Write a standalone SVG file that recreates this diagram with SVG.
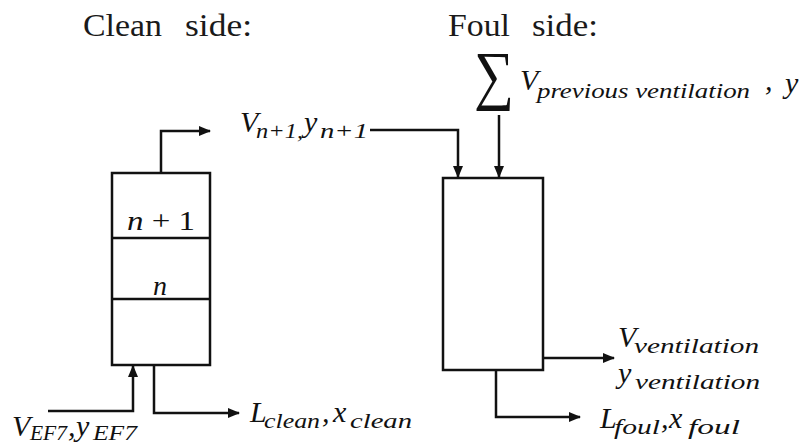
<svg xmlns="http://www.w3.org/2000/svg" width="804" height="446" viewBox="0 0 804 446">
<style>
.title{font-family:"Liberation Serif","DejaVu Serif",serif;font-size:32px;fill:#1a1a1a}
.m{font-family:"Liberation Serif","DejaVu Serif",serif;font-style:italic;font-size:30px;fill:#111}
.s{font-family:"Liberation Serif","DejaVu Serif",serif;font-style:italic;font-size:22px;fill:#111}
.u{font-family:"Liberation Serif","DejaVu Serif",serif;font-size:28px;fill:#111}
.box{fill:#fff;stroke:#111;stroke-width:2.5}
.ln{fill:none;stroke:#111;stroke-width:2.5}
.c{fill:none;stroke:#111;stroke-width:2.5;marker-end:url(#ah)}
</style>
<defs>
<marker id="ah" markerUnits="userSpaceOnUse" markerWidth="12" markerHeight="10" refX="11" refY="5" orient="auto"><path d="M0,0 L12,5 L0,10 z" fill="#111"/></marker>
</defs>
<rect width="804" height="446" fill="#fff"/>

<g id="titles">
<text class="title" x="83" y="36" textLength="79" lengthAdjust="spacingAndGlyphs">Clean</text>
<text class="title" x="185" y="36" textLength="67" lengthAdjust="spacingAndGlyphs">side:</text>
<text class="title" x="448" y="36" textLength="62" lengthAdjust="spacingAndGlyphs">Foul</text>
<text class="title" x="532" y="36" textLength="66" lengthAdjust="spacingAndGlyphs">side:</text>
</g>

<g id="clean-column">
<rect class="box" x="112" y="173" width="98" height="192"/>
<line class="ln" x1="112" y1="238" x2="210" y2="238"/>
<line class="ln" x1="112" y1="299" x2="210" y2="299"/>
<text class="u" x="161" y="230" text-anchor="middle" textLength="68" lengthAdjust="spacingAndGlyphs"><tspan font-style="italic">n</tspan> + 1</text>
<text class="u" x="160" y="295" text-anchor="middle" font-style="italic">n</text>
</g>

<g id="foul-column">
<rect class="box" x="443" y="178" width="100" height="192"/>
</g>

<g id="connectors">
<path class="c" d="M161,173 V131 H210"/>
<path class="c" d="M370,130 H458 V177"/>
<path class="c" d="M499,115 V177"/>
<path class="c" d="M48,411 H133 V366"/>
<path class="c" d="M154,365 V413 H239"/>
<path class="c" d="M543,358 H614"/>
<path class="c" d="M496,370 V417 H580"/>
</g>

<g id="label-vn1">
<text class="m" x="240" y="132">V</text>
<text class="s" x="256" y="138" textLength="47" lengthAdjust="spacingAndGlyphs">n+1,</text>
<text class="m" x="304" y="132">y</text>
<text class="s" x="320" y="138" textLength="48" lengthAdjust="spacingAndGlyphs">n+1</text>
</g>

<g id="label-previous">
<text font-family="Liberation Serif, serif" font-size="66" x="474" y="97" fill="#111" textLength="40" lengthAdjust="spacingAndGlyphs">∑</text>
<text class="m" x="520" y="90">V</text>
<text class="s" x="537" y="98" textLength="213" lengthAdjust="spacingAndGlyphs">previous ventilation</text>
<text class="m" x="765" y="90">,</text>
<text class="m" x="785" y="93">y</text>
</g>

<g id="label-ef7">
<text class="m" x="12" y="436">V</text>
<text class="s" x="30" y="440" textLength="37" lengthAdjust="spacingAndGlyphs">EF7</text>
<text class="m" x="68" y="436">,</text>
<text class="m" x="76" y="436">y</text>
<text class="s" x="93" y="440" textLength="44" lengthAdjust="spacingAndGlyphs">EF7</text>
</g>

<g id="label-clean">
<text class="m" x="250" y="422">L</text>
<text class="s" x="264" y="428" textLength="56" lengthAdjust="spacingAndGlyphs">clean</text>
<text class="m" x="322" y="422">,</text>
<text class="m" x="333" y="422">x</text>
<text class="s" x="350" y="428" textLength="62" lengthAdjust="spacingAndGlyphs">clean</text>
</g>

<g id="label-ventilation">
<text class="m" x="618" y="347">V</text>
<text class="s" x="634" y="353" textLength="125" lengthAdjust="spacingAndGlyphs">ventilation</text>
<text class="m" x="618" y="383">y</text>
<text class="s" x="635" y="389" textLength="125" lengthAdjust="spacingAndGlyphs">ventilation</text>
</g>

<g id="label-foul">
<text class="m" x="600" y="428">L</text>
<text class="s" x="614" y="434" textLength="46" lengthAdjust="spacingAndGlyphs">foul</text>
<text class="m" x="661" y="428">,</text>
<text class="m" x="669" y="428">x</text>
<text class="s" x="688" y="434" textLength="52" lengthAdjust="spacingAndGlyphs">foul</text>
</g>
</svg>
